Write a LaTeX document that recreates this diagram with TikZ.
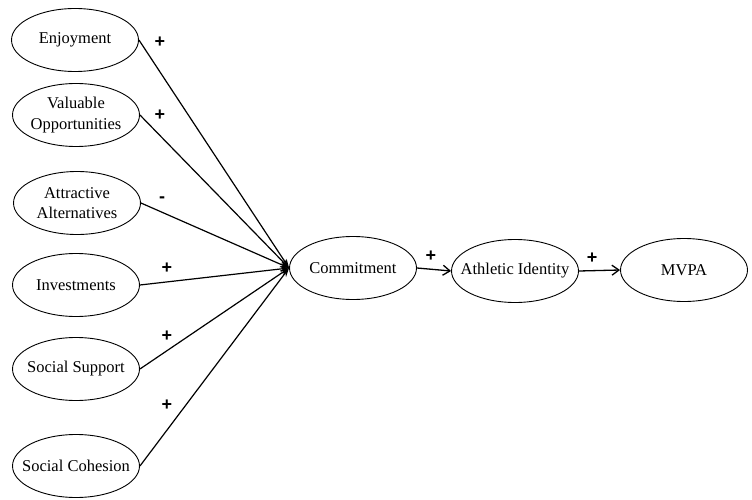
\documentclass[tikz,border=0pt]{standalone}
\usepackage{fontspec}
\setmainfont{Liberation Serif}
\newfontfamily\signfont{Liberation Sans}
\usetikzlibrary{shapes.geometric,arrows.meta}
\begin{document}
\begin{tikzpicture}[x=1pt,y=-1pt,
  oval/.style={draw,ellipse,line width=0.9pt,minimum width=127pt,minimum height=63pt,inner xsep=-14pt,inner ysep=-6pt,align=center,font=\fontsize{16.5}{20.5}\selectfont},
  conn/.style={line width=1.2pt,-{Stealth[length=9pt,width=6pt]}},
  chain/.style={line width=1.3pt,-{Straight Barb[length=7pt,width=10pt,line width=1.3pt]}},
  sign/.style={font=\signfont\bfseries\fontsize{18}{18}\selectfont}]
\useasboundingbox (0,0) rectangle (752,500);
\node[oval] (enj) at (75,40) {Enjoyment};
\node[oval] (val) at (76,115) {Valuable\\Opportunities};
\node[oval] (att) at (77,203) {Attractive\\Alternatives};
\node[oval] (inv) at (76,285) {Investments};
\node[oval] (sup) at (76,369) {Social Support};
\node[oval] (coh) at (76,466) {Social Cohesion};
\node[oval] (com) at (353,268) {Commitment};
\node[oval] (ath) at (515,271) {Athletic Identity};
\node[oval] (mvp) at (684,270) {MVPA};
\foreach \s in {enj,val,att,inv,sup,coh}
  \draw[conn] (\s.east) -- (com.west);
\draw[chain] (com.east) -- (ath.west);
\draw[chain] (ath.east) -- (mvp.west);
\node[sign] (p1) at (160,42) {+};
\node[sign] (p2) at (160,115) {+};
\node[sign] (p3) at (162,200) {-};
\node[sign] (p4) at (167,268) {+};
\node[sign] (p5) at (167,336) {+};
\node[sign] (p6) at (167,405) {+};
\node[sign] (p7) at (431,256) {+};
\node[sign] (p8) at (592,258) {+};
\end{tikzpicture}
\end{document}
